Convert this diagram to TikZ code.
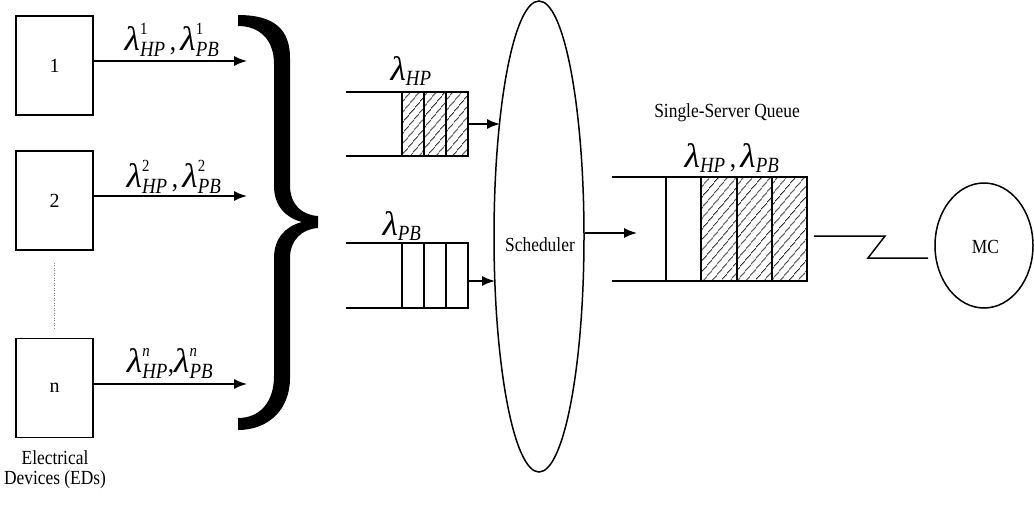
\documentclass[tikz,border=0pt]{standalone}
\usepackage{graphicx}
\usepackage{fontspec}
\setmainfont{Liberation Serif}
\usetikzlibrary{arrows.meta,shapes.geometric,patterns.meta}

% the lambda glyph, set large and a little wide
\newcommand\lamglyph{\mbox{\fontsize{34}{34}\selectfont\itshape\scalebox{1.2}[1]{λ}}}
% arrival-rate symbol with a superscript and an italic subscript
\newcommand\rateSS[2]{$\lamglyph^{\mbox{\fontsize{17}{17}\selectfont #1}}_{\mbox{\fontsize{21.7}{22}\selectfont\itshape #2}}$}
% arrival-rate symbol with an italic subscript only
\newcommand\rateS[1]{$\lamglyph_{\mbox{\fontsize{21.7}{22}\selectfont\itshape #1}}$}

\tikzset{
  txt/.style={font=\fontsize{20}{20}\selectfont, inner sep=0pt, anchor=base, xscale=0.87, transform shape},
  mathlbl/.style={font=\fontsize{29}{29}\selectfont, inner sep=0pt, anchor=base, xscale=0.87, transform shape},
  devbox/.style={draw, line width=1.5pt, minimum width=77pt, minimum height=99pt, inner sep=0pt, font=\fontsize{20}{20}\selectfont},
  arr/.style={line width=1.5pt, -{Latex[length=13pt,width=10pt]}},
  qline/.style={line width=2pt},
  cell/.style={draw, line width=1.6pt},
  hatched/.style={cell, pattern={Lines[angle=50,distance=6.5pt,line width=0.8pt]}, pattern color=black!85},
  oval/.style={draw, ellipse, line width=1.5pt, inner sep=0pt},
}

\begin{document}
\begin{tikzpicture}[x=1pt, y=-1pt]
\useasboundingbox (0,0) rectangle (1034,504);

% electrical devices
\node[devbox] (b1) at (54.5,65.5) {1};
\node[devbox] (b2) at (54.5,200.5) {2};
\node[devbox] (bn) at (54.5,388) {n};
\draw[gray, line width=0.8pt, dash pattern=on 1pt off 1.5pt] (b2.south) ++(0,12) coordinate (d1) -- (54.5,329) coordinate (d2);
\node[txt, anchor=center, align=center] (eds) at (55,470) {Electrical\\Devices (EDs)};

% per-device arrivals
\coordinate (e1) at (247,61);
\coordinate (e2) at (247,196);
\coordinate (en) at (247,384);
\draw[arr] (b1.east |- e1) -- (e1);
\draw[arr] (b2.east |- e2) -- (e2);
\draw[arr] (bn.east |- en) -- (en);
\node[mathlbl] (l1) at (172,50) {\rateSS{1}{HP}\,,\,\rateSS{1}{PB}};
\node[mathlbl] (l2) at (174,187) {\rateSS{2}{HP}\,,\,\rateSS{2}{PB}};
\node[mathlbl] (ln) at (170,372) {\rateSS{\itshape n}{HP},\rateSS{\itshape n}{PB}};

% brace gathering all devices
\fill (238,15) .. controls (275,15) and (290,30) .. (290,58)
  -- (290,185)
  .. controls (290,205) and (302,215) .. (318,216)
  -- (318,228)
  .. controls (302,229) and (290,240) .. (290,258)
  -- (290,378)
  .. controls (290,410) and (268,430) .. (238,430)
  -- (238,418)
  .. controls (260,418) and (274,402) .. (274,376)
  -- (274,258)
  .. controls (274,238) and (286,226) .. (302,222)
  .. controls (286,218) and (274,206) .. (274,186)
  -- (274,64)
  .. controls (274,40) and (260,26) .. (238,26) -- cycle;

% high-priority queue
\draw[qline] (346,92) -- (468,92) (346,156) -- (468,156);
\draw[hatched] (402,92) rectangle (424,156);
\draw[hatched] (424,92) rectangle (446,156);
\draw[hatched] (446,92) rectangle (468,156);
\node[mathlbl] (lhp) at (411,80) {\rateS{HP}};

% best-effort queue
\draw[qline] (346,243) -- (468,243) (346,308) -- (468,308);
\draw[cell] (402,243) rectangle (424,308);
\draw[cell] (424,243) rectangle (446,308);
\draw[cell] (446,243) rectangle (468,308);
\node[mathlbl] (lpb) at (402,235) {\rateS{PB}};

% scheduler
\node[oval, minimum width=90pt, minimum height=471pt] (sch) at (539,236.5) {};
\node[txt] (schl) at (540,251) {Scheduler};
\coordinate (hpout) at (468,124);
\coordinate (hpin) at (500,124);
\coordinate (pbout) at (468,281);
\coordinate (pbin) at (495,281);
\draw[arr] (hpout) -- (hpin);
\draw[arr] (pbout) -- (pbin);

% single-server queue
\node[txt] (ssq) at (727,117) {Single-Server Queue};
\node[mathlbl] (lall) at (732,167) {\rateS{HP}\,,\,\rateS{PB}};
\coordinate (sqin) at (637,233);
\draw[arr] (sch.east |- sqin) -- (sqin);
\draw[qline] (612,177) -- (807,177) (612,281) -- (807,281);
\draw[cell, line width=1.3pt] (666,177) -- (666,281);
\draw[hatched] (701,177) rectangle (737,281);
\draw[hatched] (737,177) rectangle (772,281);
\draw[hatched] (772,177) rectangle (807,281);

% link to the main controller
\node[oval, minimum width=98pt, minimum height=125pt] (mc) at (984,245.5) {};
\node[txt] (mcl) at (985.5,253) {MC};
\coordinate (sqout) at (814,236);
\coordinate (z1) at (885,236);
\coordinate (z2) at (868,258);
\coordinate (mcin) at (928,258);
\draw[line width=1.5pt] (sqout) -- (z1) -- (z2) -- (mcin);
\end{tikzpicture}
\end{document}
